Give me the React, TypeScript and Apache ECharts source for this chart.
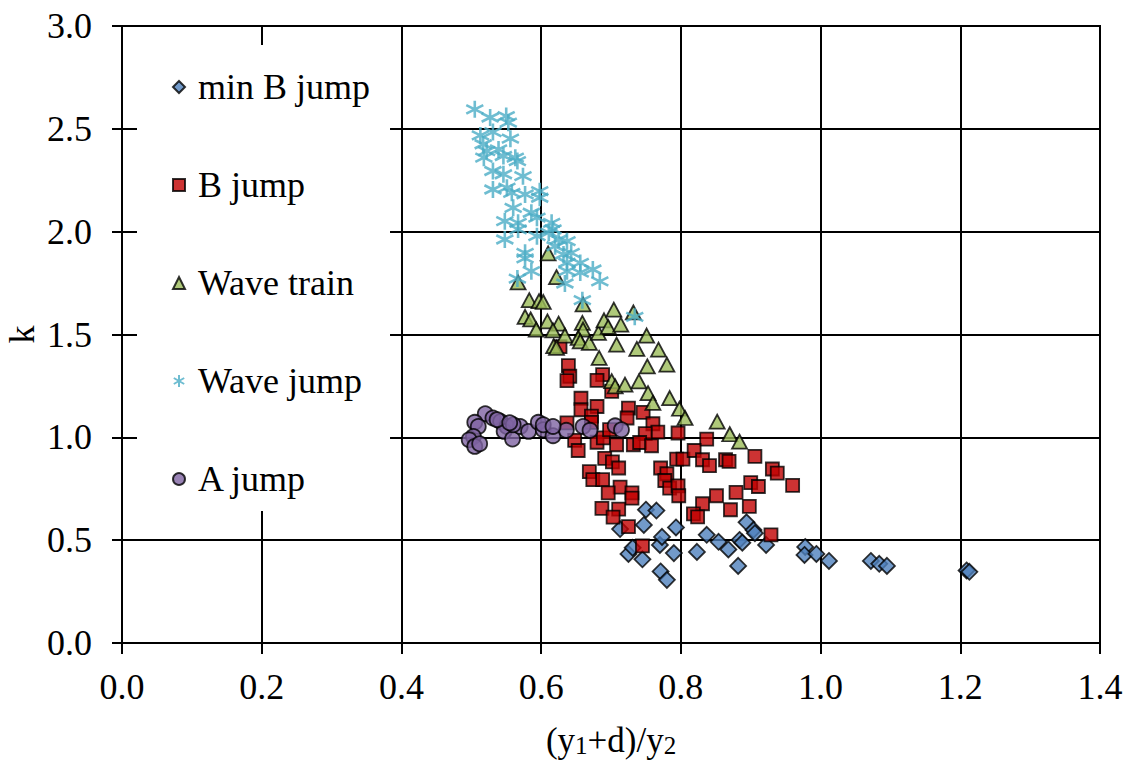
import React, { useEffect, useRef } from "react";
import * as echarts from "echarts";

const seriesNames = ["min B jump", "B jump", "Wave train", "Wave jump", "A jump"];

const minBJump: [number, number][] = [
  [0.713, 0.554], [0.725, 0.433], [0.731, 0.463], [0.745, 0.407], [0.747, 0.574],
  [0.75, 0.648], [0.765, 0.644], [0.77, 0.477], [0.773, 0.516], [0.771, 0.348],
  [0.78, 0.307], [0.79, 0.437], [0.793, 0.562], [0.823, 0.443], [0.837, 0.526],
  [0.854, 0.492], [0.868, 0.455], [0.882, 0.375], [0.884, 0.501], [0.888, 0.488],
  [0.894, 0.587], [0.904, 0.55], [0.906, 0.534], [0.922, 0.477], [0.978, 0.467],
  [0.977, 0.428], [0.994, 0.433], [1.012, 0.399], [1.072, 0.399], [1.084, 0.385],
  [1.095, 0.375], [1.209, 0.353], [1.213, 0.346],
];

const bJump: [number, number][] = [
  [0.627, 1.441], [0.639, 1.349], [0.641, 1.297], [0.637, 1.276], [0.688, 1.305],
  [0.68, 1.277], [0.701, 1.223], [0.657, 1.19], [0.657, 1.134], [0.68, 1.15],
  [0.672, 1.103], [0.672, 1.073], [0.725, 1.142], [0.723, 1.094], [0.746, 1.121],
  [0.76, 1.066], [0.767, 1.025], [0.749, 1.018], [0.796, 1.021], [0.637, 1.07],
  [0.648, 0.985], [0.653, 0.936], [0.68, 0.976], [0.689, 0.997], [0.698, 1.037],
  [0.708, 0.964], [0.732, 0.964], [0.741, 0.975], [0.758, 0.959], [0.691, 0.898],
  [0.702, 0.881], [0.711, 0.851], [0.669, 0.833], [0.674, 0.794], [0.688, 0.794],
  [0.713, 0.758], [0.696, 0.73], [0.73, 0.73], [0.73, 0.704], [0.687, 0.655],
  [0.711, 0.651], [0.703, 0.612], [0.725, 0.566], [0.745, 0.472], [0.771, 0.851],
  [0.78, 0.823], [0.777, 0.79], [0.784, 0.753], [0.796, 0.764], [0.797, 0.716],
  [0.794, 0.894], [0.803, 0.894], [0.837, 0.991], [0.819, 0.936], [0.831, 0.891],
  [0.841, 0.862], [0.864, 0.891], [0.869, 0.883], [0.851, 0.716], [0.879, 0.732],
  [0.831, 0.677], [0.871, 0.648], [0.818, 0.628], [0.824, 0.613], [0.906, 0.907],
  [0.931, 0.846], [0.938, 0.826], [0.96, 0.766], [0.9, 0.78], [0.911, 0.761],
  [0.898, 0.664], [0.929, 0.526],
];

const waveTrain: [number, number][] = [
  [0.61, 1.894], [0.622, 1.779], [0.567, 1.753], [0.583, 1.667], [0.597, 1.662],
  [0.603, 1.658], [0.577, 1.586], [0.585, 1.573], [0.609, 1.564], [0.593, 1.524],
  [0.625, 1.553], [0.617, 1.52], [0.634, 1.495], [0.618, 1.443], [0.622, 1.435],
  [0.66, 1.646], [0.659, 1.556], [0.66, 1.524], [0.653, 1.483], [0.656, 1.467],
  [0.669, 1.459], [0.682, 1.508], [0.69, 1.569], [0.696, 1.537], [0.704, 1.621],
  [0.714, 1.548], [0.732, 1.607], [0.708, 1.451], [0.683, 1.386], [0.737, 1.43],
  [0.751, 1.495], [0.768, 1.426], [0.752, 1.345], [0.78, 1.353], [0.74, 1.272],
  [0.701, 1.273], [0.706, 1.248], [0.72, 1.256], [0.753, 1.215], [0.76, 1.167],
  [0.784, 1.191], [0.798, 1.139], [0.806, 1.094], [0.852, 1.076], [0.87, 1.015],
  [0.884, 0.979],
];

const waveJump: [number, number][] = [
  [0.505, 2.595], [0.527, 2.555], [0.55, 2.562], [0.553, 2.53], [0.513, 2.468],
  [0.531, 2.484], [0.556, 2.452], [0.517, 2.425], [0.522, 2.392], [0.518, 2.36],
  [0.539, 2.4], [0.546, 2.368], [0.563, 2.36], [0.566, 2.343], [0.531, 2.295],
  [0.546, 2.279], [0.574, 2.27], [0.531, 2.205], [0.551, 2.214], [0.558, 2.189],
  [0.577, 2.181], [0.598, 2.197], [0.598, 2.165], [0.56, 2.116], [0.548, 2.051],
  [0.567, 2.043], [0.586, 2.092], [0.594, 2.068], [0.548, 1.962], [0.567, 2.011],
  [0.594, 1.978], [0.615, 2.043], [0.617, 2.011], [0.625, 1.962], [0.637, 1.954],
  [0.62, 1.929], [0.643, 1.897], [0.577, 1.897], [0.577, 1.87], [0.586, 1.808],
  [0.566, 1.772], [0.632, 1.889], [0.637, 1.849], [0.656, 1.848], [0.634, 1.748],
  [0.674, 1.816], [0.684, 1.758], [0.659, 1.667], [0.734, 1.586], [0.611, 1.995],
  [0.656, 1.801], [0.637, 1.808],
];

const aJump: [number, number][] = [
  [0.52, 1.115], [0.505, 1.073], [0.51, 1.053], [0.531, 1.094], [0.542, 1.077],
  [0.551, 1.053], [0.547, 1.029], [0.503, 1.004], [0.497, 0.988], [0.505, 0.956],
  [0.512, 0.969], [0.559, 0.992], [0.57, 1.053], [0.582, 1.029], [0.596, 1.073],
  [0.603, 1.037], [0.617, 1.008], [0.636, 1.034], [0.66, 1.053], [0.67, 1.034],
  [0.706, 1.056], [0.715, 1.037], [0.56, 1.061], [0.603, 1.061], [0.617, 1.053],
  [0.537, 1.086], [0.555, 1.071],
];

const xMin = 0;
const xMax = 1.4;
const xStep = 0.2;
const yMin = 0;
const yMax = 3;
const yStep = 0.5;

const FONT = "Liberation Serif";
const asterisk = "path://M0,-10L0,10M-8.66,-5L8.66,5M-8.66,5L8.66,-5";

export default function App() {
  const ref = useRef<HTMLDivElement>(null);
  useEffect(() => {
    if (!ref.current) return;
    const chart = echarts.init(ref.current, null, { renderer: "svg" });
    const border = { borderColor: "#000", borderWidth: 1.8 };
    const line = { color: "#000", width: 2 };
    chart.setOption({
      animation: false,
      backgroundColor: "#fff",
      textStyle: { fontFamily: FONT },
      grid: {
        left: 122,
        right: 29,
        top: 26,
        bottom: 118,
        show: true,
        borderColor: "#000",
        borderWidth: 2,
        backgroundColor: "#fff",
        containLabel: false,
        outerBoundsMode: "none",
      },
      legend: {
        data: seriesNames,
        orient: "vertical",
        left: 137,
        top: 45,
        padding: [24, 20, 14, 35],
        itemGap: 62,
        itemWidth: 12,
        itemHeight: 12,
        backgroundColor: "#fff",
        textStyle: {
          fontFamily: FONT,
          fontSize: 36,
          color: "#000",
          lineHeight: 36,
          padding: [0, 0, 0, 8],
        },
      },
      xAxis: {
        type: "value",
        min: xMin,
        max: xMax,
        interval: xStep,
        name: "(y{s|1}+d)/y{s|2}",
        nameLocation: "middle",
        nameGap: 80,
        nameMoveOverlap: false,
        nameTextStyle: {
          fontFamily: FONT,
          fontSize: 35,
          color: "#000",
          rich: {
            s: { fontFamily: FONT, fontSize: 25, lineHeight: 12, verticalAlign: "bottom", color: "#000" },
          },
        },
        axisLine: { lineStyle: line },
        axisTick: { show: true, inside: false, length: 11, lineStyle: line },
        axisLabel: {
          fontFamily: FONT,
          fontSize: 36,
          color: "#000",
          margin: 26,
          formatter: (v: number) => v.toFixed(1),
        },
        splitLine: { show: true, lineStyle: line },
      },
      yAxis: [
        {
          type: "value",
          min: yMin,
          max: yMax,
          interval: yStep,
          name: "k",
          nameLocation: "middle",
          nameGap: 82,
          nameMoveOverlap: false,
          nameTextStyle: { fontFamily: FONT, fontSize: 36, color: "#000" },
          axisLine: { show: true, lineStyle: line },
          axisTick: { show: true, inside: false, length: 10, lineStyle: line },
          axisLabel: {
            fontFamily: FONT,
            fontSize: 36,
            color: "#000",
            margin: 30,
            formatter: (v: number) => v.toFixed(1),
          },
          splitLine: { show: true, lineStyle: line },
        },
        {
          type: "value",
          min: yMin,
          max: yMax,
          interval: yStep,
          position: "left",
          axisLine: { show: false },
          axisTick: { show: true, inside: true, length: 14, lineStyle: line },
          axisLabel: { show: false },
          splitLine: { show: false },
          z: 10,
        },
      ],
      series: [
        {
          name: seriesNames[0],
          type: "scatter",
          data: minBJump,
          symbol: "diamond",
          symbolSize: 16,
          itemStyle: { color: "#4f81bd", ...border },
        },
        {
          name: seriesNames[1],
          type: "scatter",
          data: bJump,
          symbol: "rect",
          symbolSize: 13,
          itemStyle: { color: "#c00000", ...border },
        },
        {
          name: seriesNames[2],
          type: "scatter",
          data: waveTrain,
          symbol: "triangle",
          symbolSize: [15, 14],
          itemStyle: { color: "#9bbb59", ...border },
        },
        {
          name: seriesNames[3],
          type: "scatter",
          data: waveJump,
          symbol: asterisk,
          symbolSize: 17,
          itemStyle: { color: "rgba(0,0,0,0)", borderColor: "#4bacc6", borderWidth: 2.6 },
        },
        {
          name: seriesNames[4],
          type: "scatter",
          data: aJump,
          symbol: "circle",
          symbolSize: 15,
          itemStyle: { color: "#8064a2", ...border },
        },
      ],
    });
    return () => chart.dispose();
  }, []);
  return (
    <div
      ref={ref}
      style={{ position: "fixed", left: 0, top: 0, width: 1129, height: 761, background: "#fff" }}
    />
  );
}
